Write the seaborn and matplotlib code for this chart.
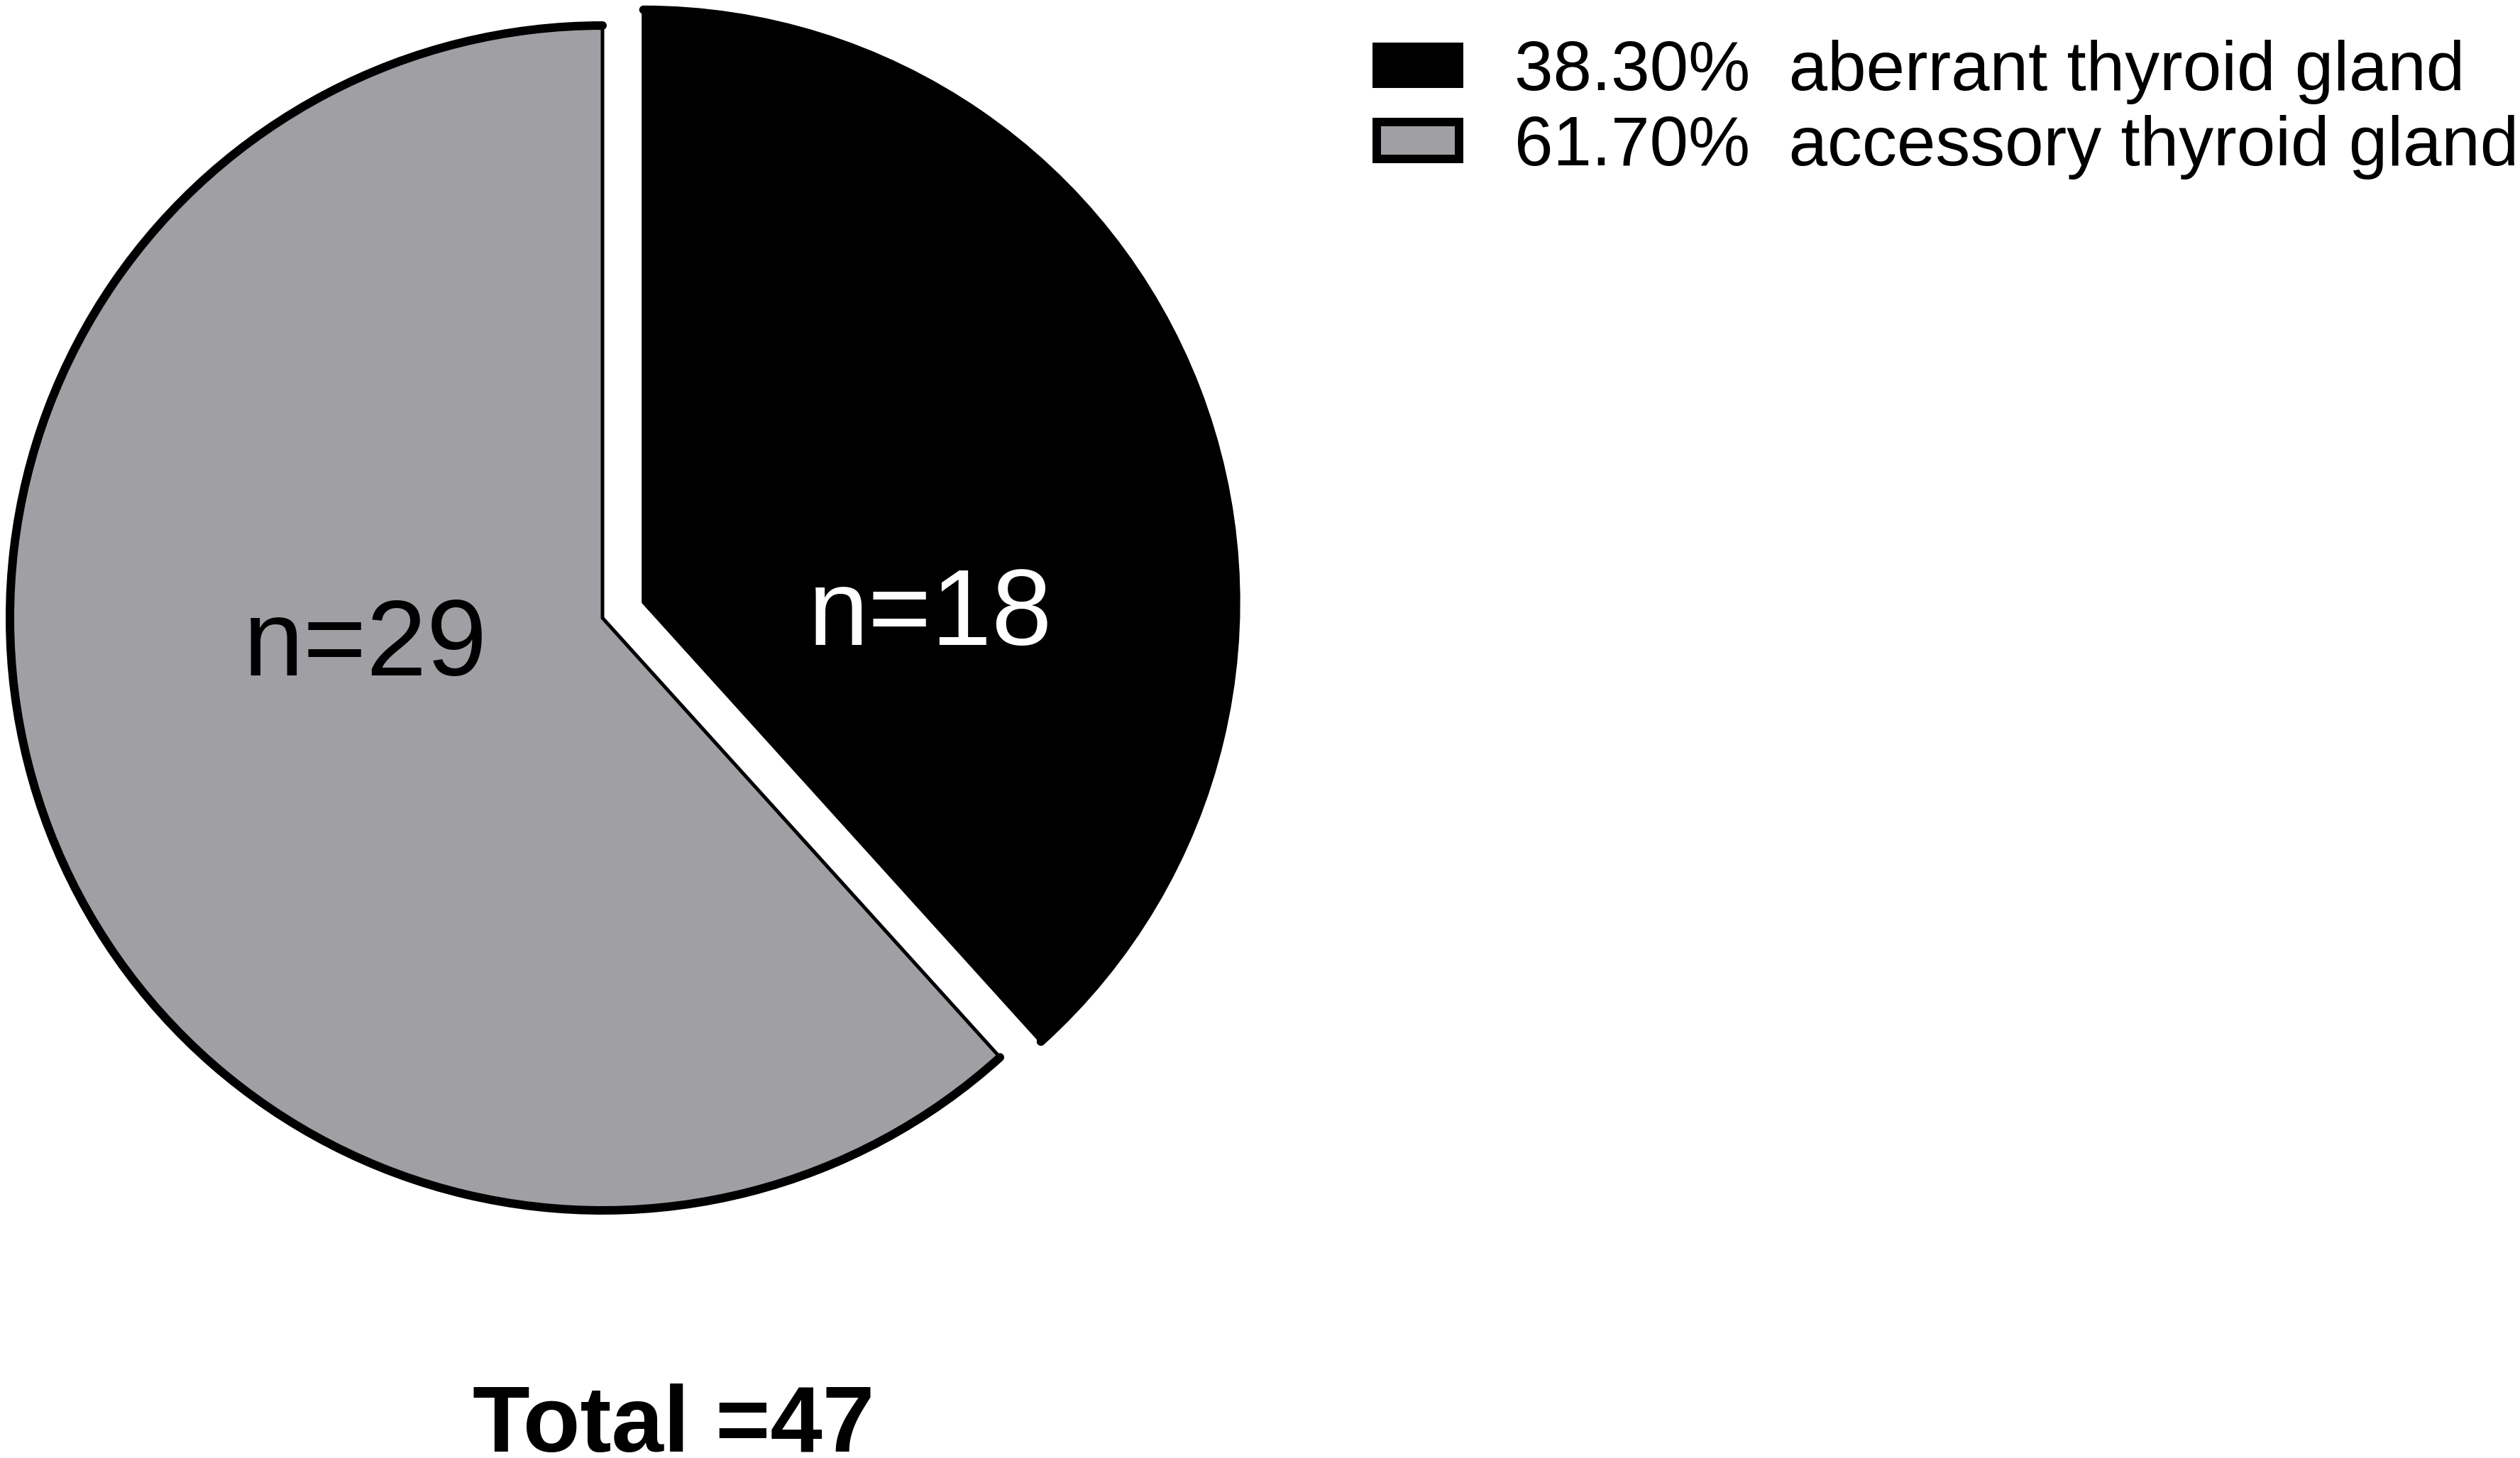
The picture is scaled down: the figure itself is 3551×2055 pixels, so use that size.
import matplotlib
matplotlib.use("Agg")
import matplotlib.pyplot as plt
from matplotlib.patches import Arc
import seaborn as sns

# ---- data ----
categories = ["aberrant thyroid gland", "accessory thyroid gland"]
counts = [18, 29]
slice_colors = ["#000000", "#a09fa4"]
label_colors = ["white", "black"]

# ---- styling constants ----
W, H, DPI = 3551, 2055, 100
PX = 72.0 / DPI  # points per pixel
pie_center_px = (849, 871)
pie_radius_px = 835
explode_frac = 0.074
label_offsets = [(0.484, -0.072), (-0.400, -0.097)]  # fraction of radius, baseline anchor

sns.set_theme(style="white")
plt.rcParams["font.family"] = ["Liberation Sans", "DejaVu Sans"]
plt.rcParams["text.color"] = "black"
plt.rcParams["legend.labelcolor"] = "black"

fig = plt.figure(figsize=(W / DPI, H / DPI), dpi=DPI)
ax = fig.add_axes([0, 0, 1, 1])

total = sum(counts)
center = (pie_center_px[0], H - pie_center_px[1])
wedges, _ = ax.pie(
    counts,
    colors=slice_colors,
    startangle=90,
    counterclock=False,
    explode=[explode_frac * pie_radius_px, 0],
    radius=pie_radius_px,
    center=center,
    wedgeprops=dict(edgecolor="black", linewidth=5 * PX, joinstyle="round"),
)

for w, n, tc, (fx, fy) in zip(wedges, counts, label_colors, label_offsets):
    arc = Arc(w.center, 2 * w.r, 2 * w.r, theta1=w.theta1, theta2=w.theta2,
              color="black", linewidth=12 * PX, capstyle="round")
    ax.add_patch(arc)
    ax.text(w.center[0] + fx * w.r, w.center[1] + fy * w.r, f"n={n}",
            ha="center", va="baseline", fontsize=110, color=tc)

ax.set_xlim(0, W)
ax.set_ylim(0, H)
ax.set_aspect("equal")
ax.axis("off")

legend_labels = [f"{c / total * 100:.2f}%  {name}" for c, name in zip(counts, categories)]
leg = ax.legend(
    wedges, legend_labels,
    loc="upper left",
    bbox_to_anchor=(1940 / W, 1 - 56 / H),
    bbox_transform=fig.transFigure,
    frameon=False,
    fontsize=70.5,
    labelcolor="black",
    handlelength=1.185,
    handleheight=0.44,
    handletextpad=0.80,
    labelspacing=0.15,
    borderpad=0,
    borderaxespad=0,
)
for p in leg.get_patches():
    p.set_edgecolor("black")
    p.set_linewidth(12 * PX)

fig.text(949.5 / W, 9 / H, f"Total ={total}", ha="center", va="baseline",
         fontsize=95, fontweight="bold", color="black")

fig.savefig("out.png", dpi=DPI, facecolor="white")
